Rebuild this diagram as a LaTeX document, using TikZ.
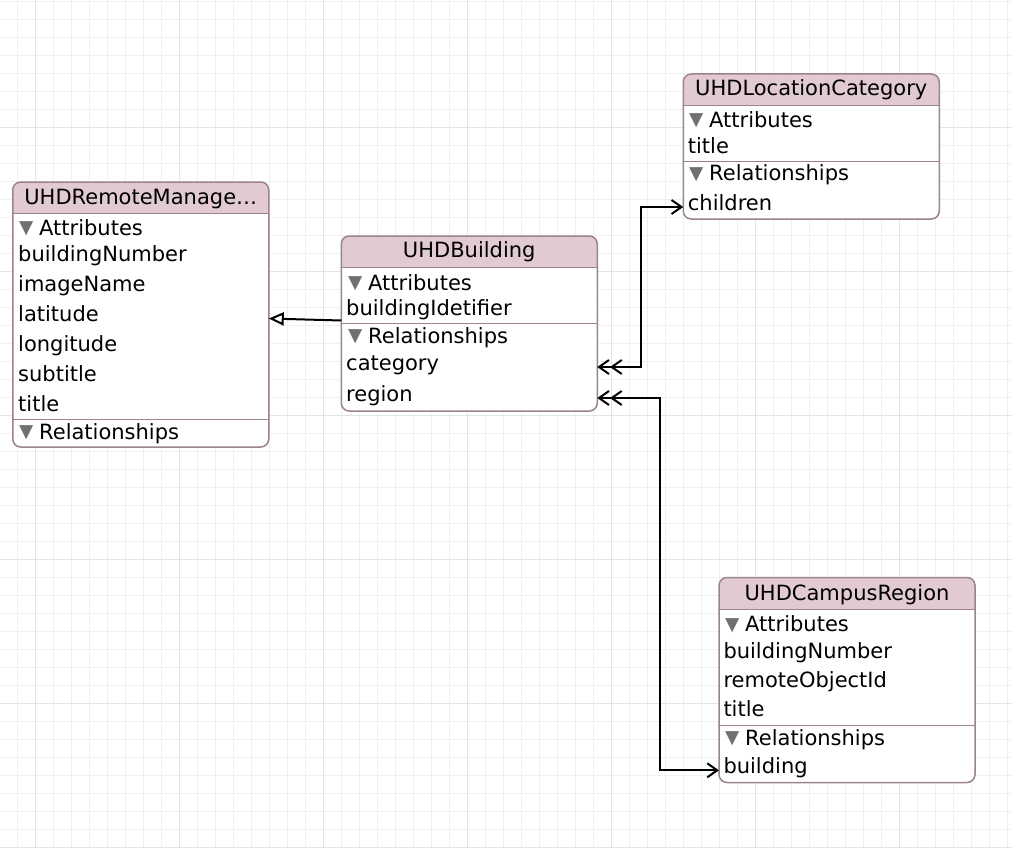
\documentclass[tikz,border=0pt]{standalone}
\usepackage{fontspec}
\setmainfont{DejaVu Sans}
\usetikzlibrary{arrows.meta}
\definecolor{gridlight}{RGB}{240,240,240}
\definecolor{griddark}{RGB}{228,228,228}
\definecolor{boxline}{RGB}{156,131,141}
\definecolor{headfill}{RGB}{225,202,209}
\definecolor{trigray}{RGB}{112,112,112}
\newcommand{\tri}{\makebox[20pt][l]{\textcolor{trigray}{\fontsize{18.5}{18.5}\selectfont\raisebox{1.5pt}{▼}}}}
\begin{document}
\begin{tikzpicture}[x=1pt,y=-1pt,line cap=round,
  entity/.style={draw=boxline,line width=1.5pt,rounded corners=8pt,fill=white,
    minimum width=256pt,inner sep=0pt,outer sep=0pt,
    path picture={\fill[headfill,sharp corners] (path picture bounding box.north west)
      rectangle ([yshift=-31.5pt]path picture bounding box.north east);}},
  entname/.style={anchor=base,inner sep=0pt,font=\fontsize{21}{21}\selectfont},
  row/.style={anchor=base west,inner sep=0pt,text height=13pt,text depth=7pt,
    font=\fontsize{21}{21}\selectfont},
  divider/.style={draw=boxline,line width=1.5pt},
  link/.style={line width=2pt,line cap=butt},
  many/.style={link,{Straight Barb[length=10pt,width=14pt]Straight Barb[length=10pt,width=14pt]}-{Straight Barb[length=10pt,width=14pt]}},
  inherit/.style={link,-{Triangle[open,length=15pt,width=13pt,fill=white]}}]
  \useasboundingbox (0,0) rectangle (1012,848);
  \fill[white] (0,0) rectangle (1012,848);
  \foreach \x in {-0.3,17.7,...,1012} \draw[gridlight,line width=1.5pt] (\x,0) -- (\x,848);
  \foreach \y in {1.7,19.7,...,848} \draw[gridlight,line width=1.5pt] (0,\y) -- (1012,\y);
  \foreach \x in {35.7,179.7,...,1012} \draw[griddark,line width=1.5pt] (\x,0) -- (\x,848);
  \foreach \y in {127.7,271.7,...,848} \draw[griddark,line width=1.5pt] (0,\y) -- (1012,\y);

  \node[entity,minimum height=265pt] (remote) at (140.75,314.5) {};
  \draw[divider] ([yshift=-31.5pt]remote.north west) -- ([yshift=-31.5pt]remote.north east);
  \draw[divider] (remote.west |- 0,419.5) -- (remote.east |- 0,419.5);
  \node[entname] (remoteName) at (140.75,204.3) {UHDRemoteManage…};
  \node[row] (remoteAttr) at (19,235) {\tri Attributes};
  \node[row] (remoteNumber) at (18,261) {buildingNumber};
  \node[row] (remoteImage) at (18,291) {imageName};
  \node[row] (remoteLat) at (18,321) {latitude};
  \node[row] (remoteLong) at (18,351) {longitude};
  \node[row] (remoteSub) at (18,381) {subtitle};
  \node[row] (remoteTitle) at (18,411) {title};
  \node[row] (remoteRel) at (19,439) {\tri Relationships};

  \node[entity,minimum height=175pt] (building) at (469.25,323.5) {};
  \draw[divider] ([yshift=-31.5pt]building.north west) -- ([yshift=-31.5pt]building.north east);
  \draw[divider] (building.west |- 0,323.7) -- (building.east |- 0,323.7);
  \node[entname] (bldName) at (469.25,257) {UHDBuilding};
  \node[row] (bldAttr) at (348,290) {\tri Attributes};
  \node[row] (bldIdent) at (346,315) {buildingIdetifier};
  \node[row] (bldRel) at (348,343.3) {\tri Relationships};
  \node[row] (bldCategory) at (346,370) {category};
  \node[row] (bldRegion) at (346,401) {region};

  \node[entity,minimum height=145pt] (loccat) at (811.25,146.5) {};
  \draw[divider] ([yshift=-31.5pt]loccat.north west) -- ([yshift=-31.5pt]loccat.north east);
  \draw[divider] (loccat.west |- 0,161.7) -- (loccat.east |- 0,161.7);
  \node[entname] (locName) at (811.25,96) {UHDLocationCategory};
  \node[row] (locAttr) at (689,127.3) {\tri Attributes};
  \node[row] (locTitle) at (687.7,153.3) {title};
  \node[row] (locRel) at (689,180.7) {\tri Relationships};
  \node[row] (locChildren) at (687.7,210) {children};

  \node[entity,minimum height=205pt] (campus) at (847,680) {};
  \draw[divider] ([yshift=-32pt]campus.north west) -- ([yshift=-32pt]campus.north east);
  \draw[divider] (campus.west |- 0,725.7) -- (campus.east |- 0,725.7);
  \node[entname] (campName) at (847,600) {UHDCampusRegion};
  \node[row] (campAttr) at (725,631.7) {\tri Attributes};
  \node[row] (campNumber) at (723.3,658.3) {buildingNumber};
  \node[row] (campRemote) at (723.3,687.3) {remoteObjectId};
  \node[row] (campTitle) at (723.3,716.7) {title};
  \node[row] (campRel) at (725,745) {\tri Relationships};
  \node[row] (campBuilding) at (723.3,773.3) {building};

  \draw[inherit] ([yshift=3pt]building.west) -- ([yshift=-4pt]remote.east);
  \draw[many] (building.east |- bldCategory) -- ++(44,0) |- (loccat.west |- locChildren);
  \draw[many] (building.east |- bldRegion) -- ++(62.5,0) |- (campus.west |- campBuilding);
\end{tikzpicture}
\end{document}
